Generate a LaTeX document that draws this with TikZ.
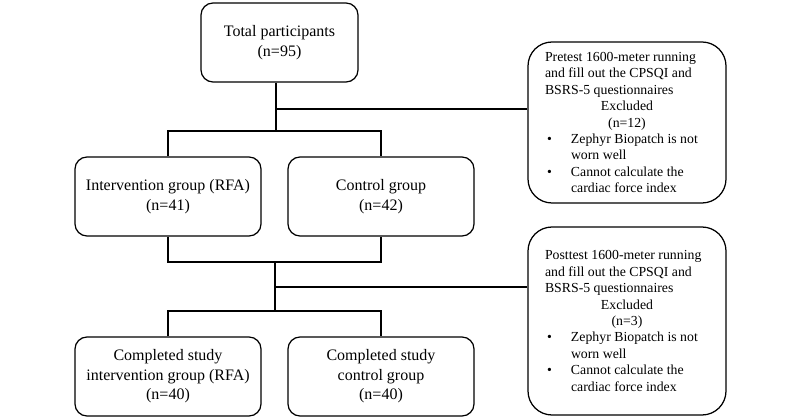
\documentclass[tikz,border=0pt]{standalone}
\usepackage{fontspec}
\setmainfont{Liberation Serif}
\begin{document}
\begin{tikzpicture}[x=1pt,y=-1pt,
  box/.style={draw, line width=1.25pt, rounded corners=12pt, inner sep=0pt, align=center,
    font=\fontsize{16}{19.5}\selectfont, minimum width=186pt, minimum height=79pt},
  sidebox/.style={draw, line width=1.25pt, rounded corners=24pt, inner sep=0pt,
    minimum width=198pt},
  conn/.style={line width=1.25pt}]
\useasboundingbox (0,0) rectangle (800,419);
\fill[white] (0,0) rectangle (800,419);

\node[box, minimum width=157pt, font=\fontsize{16}{20.5}\selectfont] (total) at (279.5,42.5) {Total participants\\(n=95)};
\node[box] (intv) at (168,196.5) {Intervention group (RFA)\\(n=41)};
\node[box] (ctrl) at (381,196.5) {Control group\\(n=42)};
\node[box] (cint) at (168,376.5) {Completed study\\intervention group (RFA)\\(n=40)};
\node[box] (cctl) at (381,376.5) {Completed study\\control group\\(n=40)};

\node[sidebox, minimum height=161pt] (ex1) at (627,122.5) {\parbox{164pt}{\fontsize{13.8}{16.4}\selectfont\raggedright
Pretest 1600-meter running\\
and fill out the CPSQI and\\
BSRS-5 questionnaires\\
\makebox[\linewidth][c]{Excluded}\\
\makebox[\linewidth][c]{(n=12)}\\
\hspace*{2pt}\makebox[24pt][l]{\textbullet}Zephyr Biopatch is not\\
\hspace*{26pt}worn well\\
\hspace*{2pt}\makebox[24pt][l]{\textbullet}Cannot calculate the\\
\hspace*{26pt}cardiac force index}};

\node[sidebox, minimum height=188pt] (ex2) at (627,321) {\parbox{164pt}{\fontsize{13.8}{16.4}\selectfont\raggedright
Posttest 1600-meter running\\
and fill out the CPSQI and\\
BSRS-5 questionnaires\\
\makebox[\linewidth][c]{Excluded}\\
\makebox[\linewidth][c]{(n=3)}\\
\hspace*{2pt}\makebox[24pt][l]{\textbullet}Zephyr Biopatch is not\\
\hspace*{26pt}worn well\\
\hspace*{2pt}\makebox[24pt][l]{\textbullet}Cannot calculate the\\
\hspace*{26pt}cardiac force index}};

\coordinate (j1) at (276,109);
\coordinate (s1) at (276,131);
\coordinate (j2) at (275,262);
\coordinate (k2) at (275,287);
\coordinate (s2) at (275,311);

\draw[conn] (j1 |- total.south) -- (s1);
\draw[conn] (j1) -- (j1 -| ex1.west);
\draw[conn] (intv.north) |- (s1) -| (ctrl.north);
\draw[conn] (intv.south) |- (j2) -| (ctrl.south);
\draw[conn] (j2) -- (s2);
\draw[conn] (k2) -- (k2 -| ex2.west);
\draw[conn] (cint.north) |- (s2) -| (cctl.north);
\end{tikzpicture}
\end{document}
